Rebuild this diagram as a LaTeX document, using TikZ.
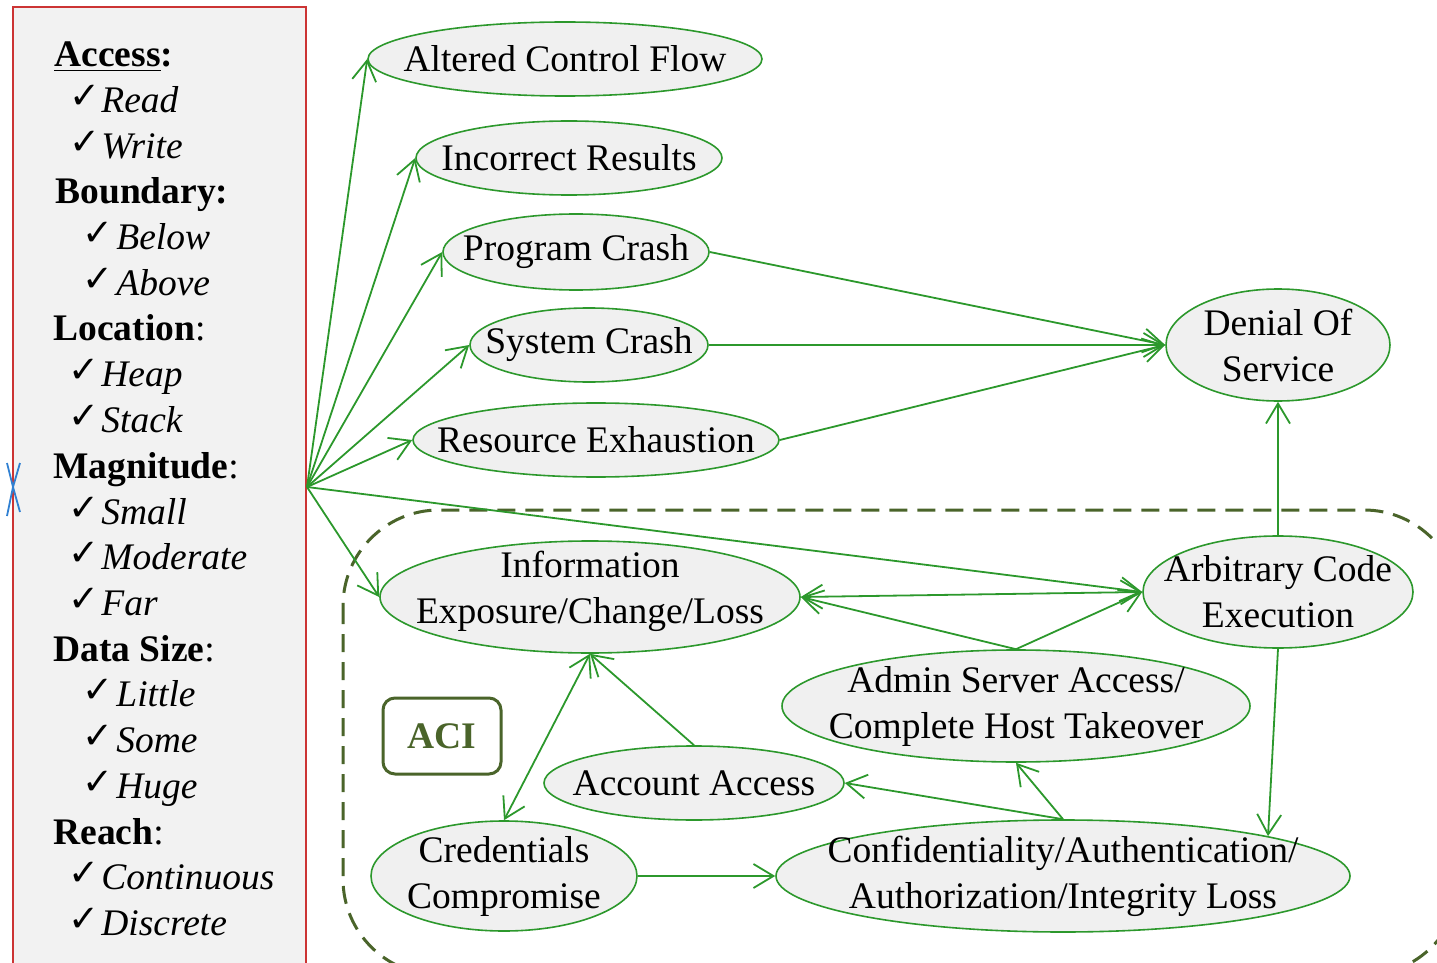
\documentclass[tikz,border=0pt]{standalone}
\usepackage{fontspec}
\setmainfont{Liberation Serif}
\newfontfamily\symfont{DejaVu Sans}
\usetikzlibrary{shapes.geometric,arrows.meta}
\definecolor{edgegreen}{RGB}{44,152,44}
\definecolor{ovalfill}{RGB}{240,240,240}
\definecolor{panelgray}{RGB}{242,242,242}
\definecolor{panelred}{RGB}{204,52,52}
\definecolor{regiongreen}{RGB}{74,100,42}
\definecolor{markblue}{RGB}{48,128,210}
\newcommand{\tick}{\makebox[10pt][l]{\raisebox{2pt}{\symfont\fontsize{18.5}{18.5}\selectfont ✓}}}
\begin{document}
\begin{tikzpicture}[x=0.5pt,y=-0.5pt,
  oval/.style={ellipse,draw=edgegreen,line width=0.8pt,fill=ovalfill,inner sep=0pt},
  txt/.style={align=center,inner sep=0pt,font=\fontsize{18.75}{23}\selectfont},
  barb/.tip={Straight Barb[length=10pt,width=12pt]},
  link/.style={draw=edgegreen,line width=0.9pt,-barb},
  both/.style={draw=edgegreen,line width=0.9pt,barb-barb},
  lbl/.style={anchor=base west,inner sep=0pt,font=\fontsize{18.75}{23}\selectfont},
  chk/.style={anchor=base west,inner sep=0pt}
]
\useasboundingbox (0,0) rectangle (1437,963);
\clip (0,0) rectangle (1437,963);

% attribute panel
\draw[draw=panelred,line width=1pt,fill=panelgray] (13,7) rectangle (306,990);

% small blue marker on the panel edge
\draw[markblue,line width=0.9pt] (7,463) -- (13,487) -- (7,516);
\draw[markblue,line width=0.9pt] (20,463) -- (13,487) -- (20,512);

% headings
\node[lbl] (hAccess)   at (54,67)  {\textbf{\underline{Access}:}};
\node[lbl] (hBoundary) at (55,204) {\textbf{Boundary:}};
\node[lbl] (hLocation) at (53,341) {\textbf{Location}:};
\node[lbl] (hMagn)     at (53,478) {\textbf{Magnitude}:};
\node[lbl] (hData)     at (53,661) {\textbf{Data Size}:};
\node[lbl] (hReach)    at (53,844) {\textbf{Reach}:};

% checked items
\foreach \n/\yy/\cx/\tx/\word in {
  iRead/112.7/69/101/Read, iWrite/158.4/69/101/Write,
  iBelow/249.8/82/116/Below, iAbove/295.5/82/116/Above,
  iHeap/386.9/68/101/Heap, iStack/432.6/68/101/Stack,
  iSmall/524/68/101/Small, iModerate/569.7/68/101/Moderate, iFar/615.4/68/101/Far,
  iLittle/706.8/82/116/Little, iSome/752.5/82/116/Some, iHuge/798.2/82/116/Huge,
  iCont/889.6/68/101/Continuous, iDisc/935.3/68/101/Discrete}{
  \node[chk] (\n c) at (\cx,\yy) {\tick};
  \node[lbl] (\n) at (\tx,\yy) {\textit{\word}};
}

% ACI region
\draw[regiongreen,line width=1.5pt,dash pattern=on 9pt off 5pt,rounded corners=48pt]
  (343,510) rectangle (1460,975);
\node[draw=regiongreen,line width=1.5pt,rounded corners=6pt,minimum width=59pt,
  minimum height=38pt,inner sep=0pt,text=regiongreen,
  font=\fontsize{18.75}{23}\selectfont\bfseries] (aci) at (442,736) {ACI};

% consequence nodes
\node[oval,minimum width=197pt,minimum height=37pt,label={[txt]center:Altered Control Flow}] (acf) at (565,59) {};
\node[oval,minimum width=153pt,minimum height=37pt,label={[txt]center:Incorrect Results}] (inc) at (569,158) {};
\node[oval,minimum width=133pt,minimum height=38pt,label={[txt]center:Program Crash}] (pc) at (576,252) {};
\node[oval,minimum width=119pt,minimum height=37pt,label={[txt]center:System Crash}] (sc) at (589,345) {};
\node[oval,minimum width=183pt,minimum height=37pt,label={[txt]center:Resource Exhaustion}] (re) at (596,440) {};
\node[oval,minimum width=112pt,minimum height=56pt,label={[txt]center:Denial Of\\Service}] (dos) at (1278,345) {};
\node[oval,minimum width=210pt,minimum height=56pt,label={[txt,yshift=3pt]center:Information\\Exposure/Change/Loss}] (info) at (590,597) {};
\node[oval,minimum width=135pt,minimum height=56pt,label={[txt]center:Arbitrary Code\\Execution}] (ace) at (1278,592) {};
\node[oval,minimum width=234pt,minimum height=56pt,label={[txt]center:Admin Server Access/\\Complete Host Takeover}] (admin) at (1016,706) {};
\node[oval,minimum width=150pt,minimum height=37pt,label={[txt]center:Account Access}] (acc) at (694,783) {};
\node[oval,minimum width=133pt,minimum height=55pt,label={[txt]center:Credentials\\Compromise}] (cred) at (504,876) {};
\node[oval,minimum width=287pt,minimum height=56pt,label={[txt]center:Confidentiality/Authentication/\\Authorization/Integrity Loss}] (conf) at (1063,876) {};

% fan of edges out of the panel
\coordinate (fan) at (307,487);
\draw[link] (fan) -- (acf.west);
\draw[link] (fan) -- (inc.west);
\draw[link] (fan) -- (pc.west);
\draw[link] (fan) -- (sc.west);
\draw[link] (fan) -- (re.west);
\draw[link] (fan) -- (info.west);
\draw[link] (fan) -- (ace.west);

% denial of service
\draw[link] (pc.east) -- (dos.west);
\draw[link] (sc.east) -- (dos.west);
\draw[link] (re.east) -- (dos.west);
\draw[link] (ace.north) -- (dos.south);

% ACI relations
\draw[both] (info.east) -- (ace.west);
\draw[link] (admin.north) -- (info.east);
\draw[link] (admin.north) -- (ace.west);
\draw[link] (ace.south) -- (conf.11);
\draw[link] (conf.north) -- (admin.south);
\draw[link] (conf.north) -- (acc.east);
\draw[link] (acc.north) -- (info.south);
\draw[both] (info.south) -- (cred.north);
\draw[link] (cred.east) -- (conf.west);
\end{tikzpicture}
\end{document}
